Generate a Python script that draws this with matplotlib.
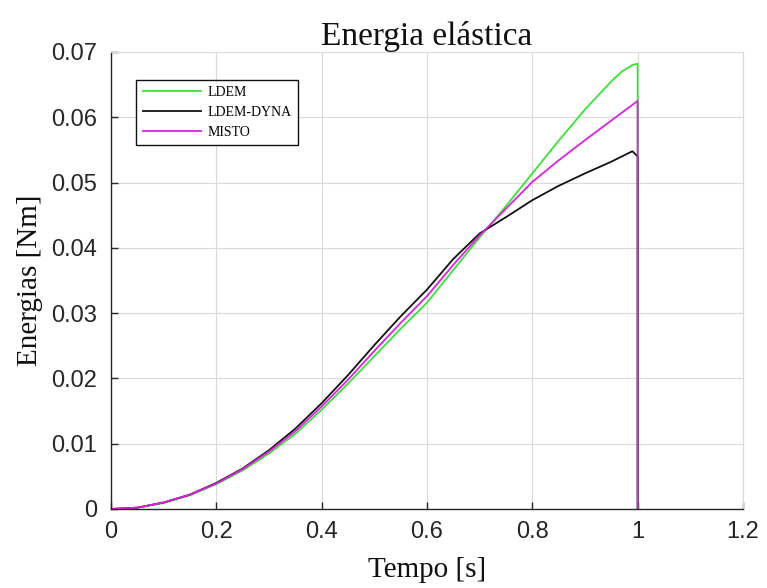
import matplotlib.pyplot as plt

# time samples (s)
t = [0, 0.05, 0.1, 0.15, 0.2, 0.25, 0.3, 0.35, 0.4, 0.45, 0.5, 0.55, 0.6, 0.65,
     0.7, 0.75, 0.8, 0.85, 0.9, 0.95, 0.97, 0.99, 1.0, 1.0]

ldem = [0, 0.0002, 0.0009, 0.0021, 0.0038, 0.0059, 0.0085, 0.0115, 0.0152, 0.0192,
        0.0234, 0.0276, 0.0316, 0.0366, 0.0416, 0.0464, 0.0514, 0.0564, 0.0612,
        0.0655, 0.0670, 0.0680, 0.0682, 0]
ldem_dyna = [0, 0.0002, 0.0010, 0.0022, 0.0040, 0.0062, 0.0090, 0.0123, 0.0162, 0.0205,
             0.0251, 0.0295, 0.0336, 0.0383, 0.0422, 0.0447, 0.0473, 0.0495, 0.0514,
             0.0532, 0.0540, 0.0548, 0.0540, 0]
misto = [0, 0.0002, 0.0010, 0.0022, 0.0039, 0.0061, 0.0088, 0.0119, 0.0157, 0.0198,
         0.0242, 0.0285, 0.0326, 0.0374, 0.0419, 0.0460, 0.0501, 0.0534, 0.0565,
         0.0595, 0.0607, 0.0619, 0.0625, 0]

labels = ['LDEM', 'LDEM-DYNA', 'MISTO']
xticks = [0, 0.2, 0.4, 0.6, 0.8, 1, 1.2]
yticks = [0, 0.01, 0.02, 0.03, 0.04, 0.05, 0.06, 0.07]

serif = 'Liberation Serif'
sans = 'Liberation Sans'

fig = plt.figure(figsize=(7.67, 5.88), dpi=100)
ax = fig.add_axes([0.1447, 0.1344, 0.8240, 0.7772])

ax.plot(t, ldem, color='#3ce03c', lw=1.3, label=labels[0])
ax.plot(t, ldem_dyna, color='#111111', lw=1.3, label=labels[1])
ax.plot(t, misto, color='#dd22dd', lw=1.3, label=labels[2])

ax.set_xlim(0, 1.2)
ax.set_ylim(0, 0.07)
ax.set_xticks(xticks)
ax.set_xticklabels(['0', '0.2', '0.4', '0.6', '0.8', '1', '1.2'])
ax.set_yticks(yticks)
ax.set_yticklabels(['0', '0.01', '0.02', '0.03', '0.04', '0.05', '0.06', '0.07'])

ax.grid(True, color='#dadada', lw=0.8)
ax.set_axisbelow(True)
for s in ['top', 'right']:
    ax.spines[s].set_color('#dadada')
    ax.spines[s].set_linewidth(0.8)
for s in ['left', 'bottom']:
    ax.spines[s].set_color('#262626')
    ax.spines[s].set_linewidth(1.0)

ax.tick_params(direction='in', length=5, width=1, color='#262626',
               labelcolor='#262626', labelsize=17)
ax.tick_params(axis='y', pad=10)
ax.tick_params(axis='x', pad=9)
for lab in ax.get_xticklabels() + ax.get_yticklabels():
    lab.set_fontfamily(sans)

ax.set_title('Energia elástica', fontfamily=serif, fontsize=24, pad=5,
             color='#111111')
ax.set_xlabel('Tempo [s]', fontfamily=serif, fontsize=21, color='#111111',
              labelpad=10)
ax.set_ylabel('Energias [Nm]', fontfamily=serif, fontsize=21, color='#111111',
              labelpad=6)

leg = ax.legend(loc='upper left', bbox_to_anchor=(0.04, 0.939), borderaxespad=0,
                prop={'family': serif, 'size': 10}, handlelength=4.2,
                handletextpad=0.5, fancybox=False, framealpha=1,
                edgecolor='#111111', borderpad=0.45)
leg.get_frame().set_linewidth(1.0)

fig.savefig('out.png', dpi=100, facecolor='white')
